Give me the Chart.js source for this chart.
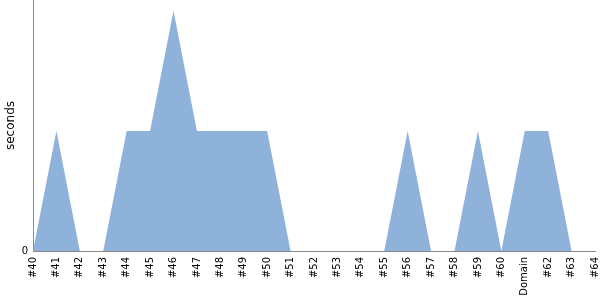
<!DOCTYPE html>
<html>
<head>
<meta charset="utf-8">
<script src="https://cdn.jsdelivr.net/npm/chart.js@4"></script>
<style>
    html, body { margin: 0; padding: 0; background: #fff; }
    #wrap { width: 600px; height: 300px; }
</style>
</head>
<body>
<div id="wrap"><canvas id="buildChart"></canvas></div>
<script>
const builds = ['#40', '#41', '#42', '#43', '#44', '#45', '#46', '#47', '#48', '#49', '#50', '#51', '#52',
    '#53', '#54', '#55', '#56', '#57', '#58', '#59', '#60', 'Domain', '#62', '#63', '#64'];
const durations = [0, 1, 0, 0, 1, 1, 2, 1, 1, 1, 1, 0, 0, 0, 0, 0, 1, 0, 0, 1, 0, 1, 1, 0, 0];
const yTicks = [0];

Chart.defaults.font.family = 'DejaVu Sans';
Chart.defaults.color = '#000';

const ctx = document.getElementById('buildChart').getContext('2d');
new Chart(ctx, {
    type: 'line',
    data: {
        labels: builds,
        datasets: [{
            data: durations,
            fill: 'origin',
            backgroundColor: 'rgb(143,178,219)',
            borderWidth: 0,
            pointRadius: 0,
            tension: 0
        }]
    },
    options: {
        responsive: true,
        maintainAspectRatio: false,
        animation: false,
        layout: { padding: { top: 0, right: 5, left: 4, bottom: 0 } },
        plugins: {
            legend: { display: false },
            tooltip: { enabled: false }
        },
        scales: {
            x: {
                offset: false,
                grid: { display: false, drawTicks: false },
                border: { color: '#888', width: 1 },
                ticks: {
                    minRotation: 90,
                    maxRotation: 90,
                    autoSkip: false,
                    padding: 6,
                    font: { size: 10 }
                },
                afterFit: scale => {
                    scale.height = 49;
                    scale.paddingLeft = 0;
                    scale.paddingRight = 0;
                }
            },
            y: {
                min: 0,
                max: 2.09,
                grid: { display: false, drawTicks: true, tickLength: 5, tickColor: '#888' },
                border: { color: '#888', width: 1 },
                title: { display: true, text: 'seconds', font: { size: 12 }, padding: 0 },
                ticks: { font: { size: 10 }, padding: 0 },
                afterBuildTicks: scale => { scale.ticks = yTicks.map(v => ({ value: v })); },
                afterFit: scale => {
                    scale.width = 29;
                    scale.paddingTop = 0;
                    scale.paddingBottom = 0;
                }
            }
        }
    }
});
</script>
</body>
</html>
